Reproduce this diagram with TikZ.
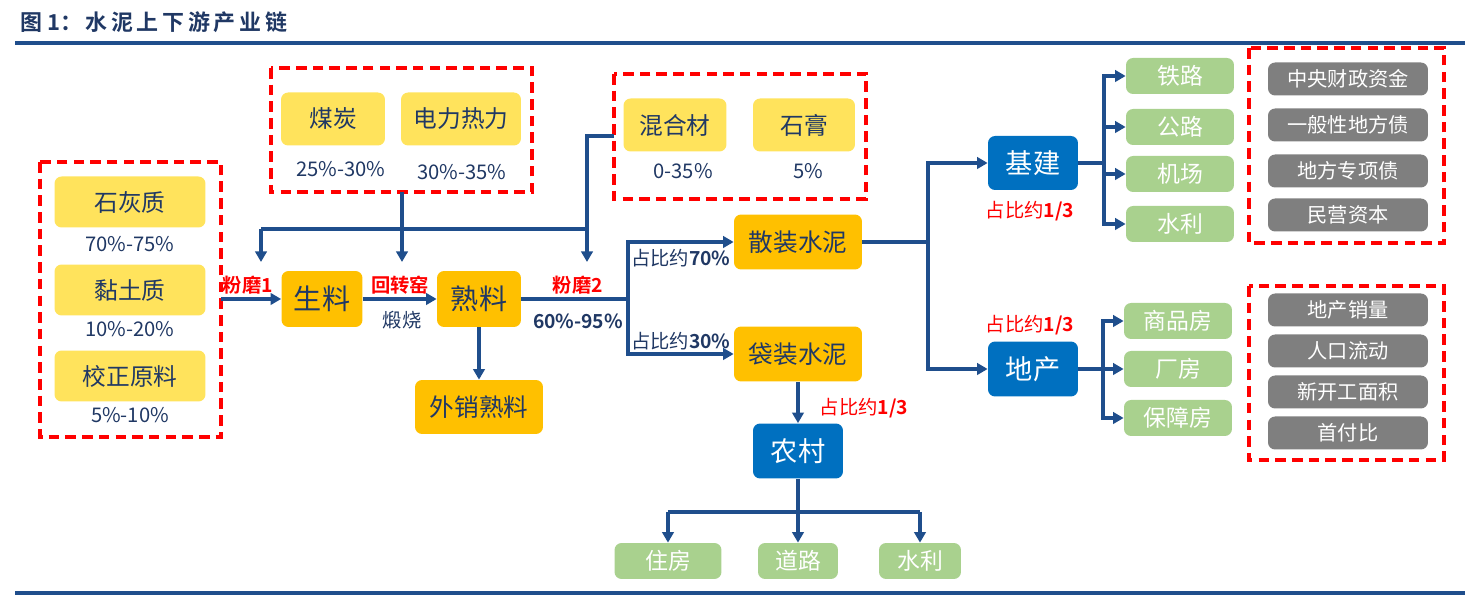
\documentclass[tikz,border=0pt]{standalone}
\usepackage{fontspec}
\setmainfont{Noto Sans CJK SC}[BoldFont={Noto Sans CJK SC Bold}]
\usetikzlibrary{arrows.meta}
\definecolor{lineblue}{HTML}{1F4E8C}
\definecolor{textblue}{HTML}{203864}
\definecolor{softyellow}{HTML}{FFE35C}
\definecolor{gold}{HTML}{FFC000}
\definecolor{deepblue}{HTML}{0070C0}
\definecolor{leafgreen}{HTML}{A9D18E}
\definecolor{slate}{HTML}{7F7F7F}
\definecolor{alertred}{HTML}{FF0000}
\tikzset{
  box/.style={rounded corners=4pt, inner sep=0pt, align=center},
  rawbox/.style={box, fill=softyellow, text=textblue, font=\fontsize{13.5}{15}\selectfont},
  stepbox/.style={box, fill=gold, text=textblue, font=\fontsize{14}{16}\selectfont},
  sinkbox/.style={box, fill=deepblue, text=white, font=\fontsize{15.5}{17}\selectfont},
  usebox/.style={box, fill=leafgreen, text=white, font=\fontsize{13}{15}\selectfont, minimum height=0.72cm},
  factbox/.style={box, fill=slate, text=white, font=\fontsize{11.5}{13}\selectfont, minimum width=3.2cm, minimum height=0.66cm},
  share/.style={text=textblue, font=\fontsize{11.5}{13}\selectfont},
  redtag/.style={text=alertred, font=\bfseries\fontsize{11}{12}\selectfont},
  bluetag/.style={text=textblue, font=\bfseries\fontsize{11}{12}\selectfont},
  group/.style={draw=alertred, line width=1.9pt, dash pattern=on 6pt off 3.5pt},
  flow/.style={draw=lineblue, line width=1.8pt},
  feed/.style={flow, -{Triangle[length=6pt,width=6.5pt]}}
}
\begin{document}
\begin{tikzpicture}[x=0.02cm, y=-0.02cm]
    \useasboundingbox (0,0) rectangle (1465,597);

    %% Title and rules
    \node[anchor=west, text=textblue, font=\bfseries\fontsize{12.5}{14}\selectfont] (title) at (14,22) {图 1：\,水\,泥\,上\,下\,游\,产\,业\,链};
    \draw[lineblue, line width=1.8pt] (15,43) -- (1465,43);
    \draw[lineblue, line width=1.8pt] (15,593) -- (1465,593);

    %% Raw materials
    \node[rawbox, minimum width=3.02cm, minimum height=1.02cm] (lime) at (130,202) {石灰质};
    \node[share] (limep) at (130,244) {70\%-75\%};
    \node[rawbox, minimum width=3.02cm, minimum height=1.02cm] (clay) at (130,290) {黏土质};
    \node[share] (clayp) at (130,329) {10\%-20\%};
    \node[rawbox, minimum width=3.02cm, minimum height=1.02cm] (fix) at (130,376) {校正原料};
    \node[share] (fixp) at (130,415) {5\%-10\%};
    \draw[group] (40,162) rectangle (221,437);
    \coordinate (rawout) at (221,299);

    % Fuel and power
    \node[rawbox, minimum width=2.08cm, minimum height=1.06cm] (coal) at (333,119) {煤炭};
    \node[share] (coalp) at (341,169) {25\%-30\%};
    \node[rawbox, minimum width=2.4cm, minimum height=1.06cm] (power) at (461,119) {电力热力};
    \node[share] (powerp) at (462,172) {30\%-35\%};
    \draw[group] (271,68) rectangle (532,192);
    \coordinate (fuelout) at (402,192);

    % Additives
    \node[rawbox, minimum width=2.06cm, minimum height=1.06cm] (mix) at (675,125) {混合材};
    \node[share] (mixp) at (683,171) {0-35\%};
    \node[rawbox, minimum width=2.04cm, minimum height=1.06cm] (gypsum) at (804,125) {石膏};
    \node[share] (gypsump) at (808,171) {5\%};
    \draw[group] (614,74) rectangle (866,199);
    \coordinate (addout) at (614,136);

    %% Production line
    \node[stepbox, font=\fontsize{16}{18}\selectfont, minimum width=1.62cm, minimum height=1.12cm] (raw) at (322,299) {生料};
    \node[stepbox, font=\fontsize{16}{18}\selectfont, minimum width=1.68cm, minimum height=1.12cm] (clinker) at (479,299) {熟料};
    \node[stepbox, minimum width=2.56cm, minimum height=1.08cm] (sold) at (479,407) {外销熟料};
    \node[stepbox, minimum width=2.56cm, minimum height=1.1cm] (bulk) at (798,242) {散装水泥};
    \node[stepbox, minimum width=2.56cm, minimum height=1.1cm] (bag) at (798,354) {袋装水泥};

    \draw[feed] (rawout) -- (raw.west);
    \node[redtag] (mill1) at (248,285) {粉磨1};
    \draw[feed] (raw) -- (clinker);
    \node[redtag] (kiln) at (400,285) {回转窑};
    \node[text=textblue, font=\fontsize{11}{12}\selectfont] (burn) at (402,320) {煅烧};
    \draw[feed] (clinker) -- (sold);

    % Feed line into the three steps
    \coordinate (busl) at (261,229);
    \coordinate (busm) at (402,229);
    \coordinate (busr) at (587,229);
    \draw[flow] (busl) -- (busr);
    \draw[flow] (addout) -| (busr);
    \draw[feed] (busl) -- (261,262);
    \draw[feed] (fuelout) -- (402,262);
    \draw[feed] (busr) -- (587,262);

    % Grinding split
    \coordinate (split) at (628,299);
    \draw[flow] (clinker.east) -- (split);
    \node[redtag] (mill2) at (578,285) {粉磨2};
    \node[bluetag] (rate) at (578,321) {60\%-95\%};
    \draw[feed] (split) |- (bulk.west);
    \draw[feed] (split) |- (bag.west);
    \node[text=textblue, font=\fontsize{11}{12}\selectfont, anchor=west, inner sep=1pt] (bulkp) at (629,258) {占比约\textbf{70\%}};
    \node[text=textblue, font=\fontsize{11}{12}\selectfont, anchor=west, inner sep=1pt] (bagp) at (629,341) {占比约\textbf{30\%}};

    %% Demand side
    \node[sinkbox, minimum width=1.8cm, minimum height=1.08cm] (infra) at (1033,163) {基建};
    \node[sinkbox, minimum width=1.8cm, minimum height=1.1cm] (estate) at (1033,369) {地产};
    \node[sinkbox, minimum width=1.8cm, minimum height=1.1cm] (rural) at (798,451) {农村};

    \coordinate (fork) at (928,242);
    \draw[flow] (bulk.east) -- (fork);
    \draw[feed] (fork) |- (infra.west);
    \draw[feed] (fork) |- (estate.west);
    \node[text=alertred, font=\fontsize{11}{12}\selectfont] (infrap) at (1030,211) {占比约\textbf{1/3}};
    \node[text=alertred, font=\fontsize{11}{12}\selectfont] (estatep) at (1030,325) {占比约\textbf{1/3}};
    \draw[feed] (bag) -- (rural);
    \node[text=alertred, font=\fontsize{11}{12}\selectfont] (ruralp) at (864,408) {占比约\textbf{1/3}};

    % Infrastructure uses
    \node[usebox, minimum width=2.16cm] (rail) at (1180,76) {铁路};
    \node[usebox, minimum width=2.16cm] (road) at (1180,127) {公路};
    \node[usebox, minimum width=2.16cm] (airport) at (1180,174) {机场};
    \node[usebox, minimum width=2.16cm] (water) at (1180,224) {水利};
    \coordinate (infrafork) at (1104,163);
    \draw[flow] (infra.east) -- (infrafork);
    \foreach \u in {rail,road,airport,water}
      \draw[feed] (infrafork) |- (\u.west);

    % Property uses
    \node[usebox, minimum width=2.16cm] (housing) at (1178,321) {商品房};
    \node[usebox, minimum width=2.16cm] (plant) at (1178,369) {厂房};
    \node[usebox, minimum width=2.16cm] (social) at (1178,418) {保障房};
    \coordinate (estatefork) at (1103,369);
    \draw[flow] (estate.east) -- (estatefork);
    \foreach \u in {housing,plant,social}
      \draw[feed] (estatefork) |- (\u.west);

    % Rural uses
    \node[usebox, minimum width=2.14cm] (home) at (668,561) {住房};
    \node[usebox, minimum width=1.6cm] (lane) at (798,561) {道路};
    \node[usebox, minimum width=1.64cm] (canal) at (920,561) {水利};
    \coordinate (ruralfork) at (798,512);
    \draw[flow] (rural) -- (ruralfork);
    \draw[flow] (home |- ruralfork) -- (canal |- ruralfork);
    \foreach \u in {home,lane,canal}
      \draw[feed] (\u |- ruralfork) -- (\u.north);

    %% Drivers
    \node[factbox] (central) at (1348,79) {中央财政资金};
    \node[factbox] (general) at (1348,125) {一般性地方债};
    \node[factbox] (special) at (1348,171) {地方专项债};
    \node[factbox] (private) at (1348,215) {民营资本};
    \draw[group] (1249,48) rectangle (1444,243);
    \node[factbox] (sales) at (1348,310) {地产销量};
    \node[factbox] (people) at (1348,351) {人口流动};
    \node[factbox] (starts) at (1348,392) {新开工面积};
    \node[factbox] (down) at (1348,433) {首付比};
    \draw[group] (1249,286) rectangle (1444,460);

\end{tikzpicture}
\end{document}
